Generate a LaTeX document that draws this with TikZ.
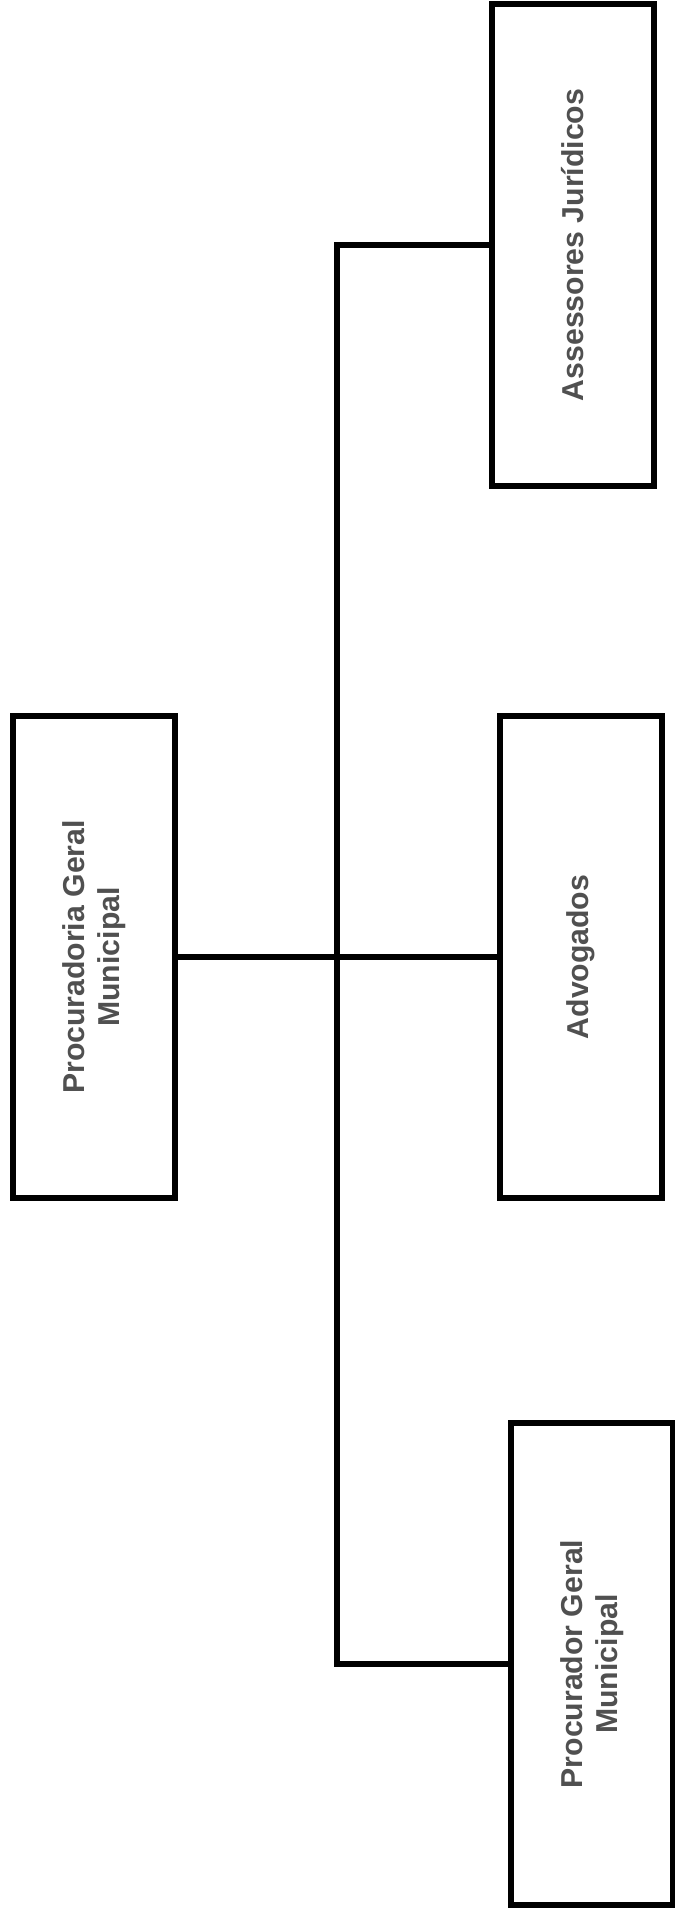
\documentclass[tikz,border=0pt]{standalone}
\usepackage{fontspec}
\setmainfont{Liberation Sans}
\usetikzlibrary{positioning}
\definecolor{labelgray}{HTML}{505050}

\tikzset{
  orgbox/.style={draw, line width=3.4pt, fill=white, rotate=90, align=center,
    minimum width=9.65cm, minimum height=3.25cm, inner sep=0pt,
    font=\bfseries\fontsize{17.2}{20}\selectfont\color{labelgray}},
  orgline/.style={line width=3.4pt, line join=miter}
}

\begin{document}
\begin{tikzpicture}[x=0.02cm, y=-0.02cm]
  \useasboundingbox (0,0) rectangle (674,1913);

  % top box, then the rest
  \node[orgbox] (proc) at (94,957) {Procuradoria Geral\\Municipal};
  \node[orgbox] (assess) at (573,245) {Assessores Jurídicos};
  \node[orgbox] (advog) at (581,957) {Advogados};
  \node[orgbox] (procgeral) at (592,1664) {Procurador Geral\\Municipal};

  \coordinate (trunk) at (337,0);

  \draw[orgline] (proc.south) -- (advog.north);
  \draw[orgline] (assess.north) -- (assess.north -| trunk)
    -- (procgeral.north -| trunk) -- (procgeral.north);
\end{tikzpicture}
\end{document}
